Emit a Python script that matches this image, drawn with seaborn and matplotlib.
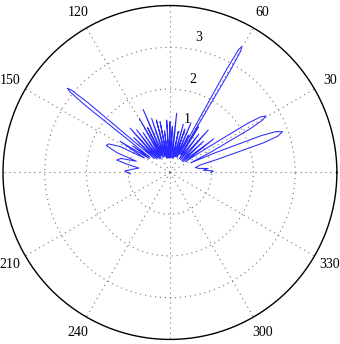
import numpy as np
import pandas as pd
import matplotlib
matplotlib.use("Agg")
import matplotlib.pyplot as plt
import seaborn as sns

# Curve: angle (degrees) and radius
theta_deg = [0, 2, 4, 6, 8, 11, 14, 15.5, 17.6, 18.6, 19.9, 21.1, 22.0, 23.5, 25, 26.5, 28.6,
             29.5, 30.5, 31.5, 32.3, 33.5, 35, 37.5, 40, 43, 45, 48, 50.5, 53, 55.5, 58,
             58.8, 59.4, 59.8, 60.3, 60.8, 61.2, 62, 63.5, 65, 67, 69, 71, 72.5, 74.5, 76.5,
             78.5, 80.5, 83.5, 85.5, 87, 88.5, 90, 91.8, 93.6, 95.5, 97.5, 99, 101, 102.8,
             104.5, 106.5, 108.7, 110.8, 113, 114.8, 116.5, 118, 119.5, 121.8, 124, 126,
             128, 130, 132, 134, 136, 138.2, 139.6, 140.1, 140.6, 141.1, 141.6, 142.8,
             144.5, 146, 148, 150.5, 152.5, 155, 157, 159.5, 161.5, 164, 166.8, 169, 172,
             175, 178, 180, 182]
radius = [0.98, 1.04, 0.80, 0.92, 0.70, 0.62, 0.75, 1.2, 2.35, 2.72, 2.87, 2.72, 2.35, 1.2,
          0.55, 1.1, 2.20, 2.55, 2.67, 2.55, 2.20, 1.1, 0.45, 1.32, 0.4, 1.1, 0.4, 1.37,
          0.4, 1.15, 0.4, 1.29, 0.5, 2.85, 3.38, 3.47, 3.38, 2.85, 0.5, 1.0, 0.4, 1.29,
          0.4, 1.1, 0.4, 1.2, 0.35, 1.0, 0.35, 1.43, 0.35, 1.1, 0.35, 1.22, 0.35, 1.26,
          0.35, 1.0, 0.35, 1.24, 0.35, 1.30, 0.4, 1.37, 0.4, 1.64, 0.4, 1.2, 0.45, 1.49,
          0.4, 1.15, 0.4, 1.3, 0.45, 1.43, 0.45, 1.2, 0.5, 2.6, 3.08, 3.18, 3.08, 2.6,
          0.6, 1.1, 0.6, 1.41, 0.7, 1.35, 1.62, 1.66, 1.35, 0.85, 1.22, 1.31, 1.05, 0.75,
          0.9, 1.08, 1.02, 0.95]

angle_ticks = [30, 60, 120, 150, 210, 240, 300, 330]
ring_ticks = [1, 2, 3]
ring_label_pos = [(71.4, 1.33), (76.0, 2.30), (77.9, 3.31)]
rmax = 4

df = pd.DataFrame({"theta": np.deg2rad(theta_deg), "r": radius})

fig = plt.figure(figsize=(3.40, 3.44), dpi=100)
ax = fig.add_axes([0.00882, 0.01308, 0.982, 0.971], projection="polar")

sns.lineplot(data=df, x="theta", y="r", ax=ax, sort=False, estimator=None,
             color="#2a2aff", linewidth=0.75)

ax.set_ylim(0, rmax)
ax.set_xlabel("")
ax.set_ylabel("")
ax.set_xticks(np.deg2rad(np.arange(0, 360, 30)))
ax.set_yticks(ring_ticks)
ax.set_xticklabels([])
ax.set_yticklabels([])
ax.grid(True, color="0.45", linestyle=(0, (1, 3.5)), linewidth=0.8)
ax.spines["polar"].set_color("black")
ax.spines["polar"].set_linewidth(1.0)
ax.tick_params(length=0)

serif = ["Liberation Serif", "DejaVu Serif"]
for a in angle_ticks:
    ax.text(np.deg2rad(a), 4.42, str(a), ha="center", va="center",
            fontsize=10, family=serif, clip_on=False)
for (a, rr), lab in zip(ring_label_pos, ring_ticks):
    ax.text(np.deg2rad(a), rr, str(lab), ha="center", va="center",
            fontsize=10, family=serif)

fig.savefig("out.png", dpi=100)
